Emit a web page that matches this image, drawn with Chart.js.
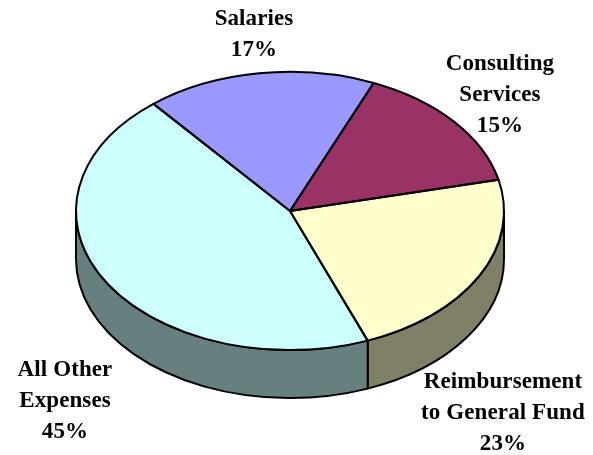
<!DOCTYPE html>
<html>
<head>
<meta charset="utf-8">
<title>Expenses</title>
<script src="https://cdn.jsdelivr.net/npm/chart.js@4/dist/chart.umd.min.js"></script>
<style>
	html, body { margin: 0; padding: 0; background: #fff; }
	canvas { display: block; }
</style>
</head>
<body>
<canvas id="chart-1" width="593" height="455"></canvas>
<script>
// clockwise from the first slice after the rotation
var categories = ["Consulting Services", "Reimbursement to General Fund", "All Other Expenses", "Salaries"];
var percents = [15, 22.7, 44.9, 17.4];
var topColours = ["#993366", "#FFFFCC", "#CCFFFF", "#9999FF"];
var sideColours = ["#4D1A33", "#808066", "#668080", "#4D4D80"];

// text of the labels, one entry per line, with where each block is centred
var labelLines = [
	["Consulting", "Services", "15%"],
	["Reimbursement", "to General Fund", "23%"],
	["All Other", "Expenses", "45%"],
	["Salaries", "17%"]
];
var labelX = [500, 503, 65, 254];
var labelTop = [64, 382, 370.5, 19];

var squash = 0.65;     // how flat the pie looks
var pieMiddleY = 211;  // where the centre of the top face ends up
var depth = 48;        // height of the side wall
var lineHeight = 30.8;

function screenArc(chart) {
	return chart.getDatasetMeta(0).data;
}

var tiltPlugin = {
	id: "tilt",
	beforeDatasetDraw: function(chart) {
		var ctx = chart.ctx;
		var arcs = screenArc(chart);
		var cx = arcs[0].x;
		var rx = arcs[0].outerRadius;
		var ry = rx * squash;

		// side wall, only the part facing the viewer (0 to PI on the canvas)
		ctx.save();
		ctx.lineWidth = 2;
		ctx.strokeStyle = "#000";
		ctx.lineJoin = "round";
		arcs.forEach(function(arc, i) {
			var lo = Math.max(arc.startAngle, 0);
			var hi = Math.min(arc.endAngle, Math.PI);
			if (hi <= lo) return;
			ctx.beginPath();
			ctx.ellipse(cx, pieMiddleY + depth, rx, ry, 0, lo, hi);
			ctx.ellipse(cx, pieMiddleY, rx, ry, 0, hi, lo, true);
			ctx.closePath();
			ctx.fillStyle = sideColours[i];
			ctx.fill();
			ctx.stroke();
		});
		ctx.restore();

		// the library draws the top face, we just flatten it
		ctx.save();
		ctx.translate(cx, pieMiddleY);
		ctx.scale(1, squash);
		ctx.translate(-cx, -arcs[0].y);
	},
	afterDatasetDraw: function(chart) {
		var ctx = chart.ctx;
		ctx.restore();

		var arcs = screenArc(chart);
		var cx = arcs[0].x;
		var rx = arcs[0].outerRadius;
		var ry = rx * squash;

		// outlines go on after the scale so the pen stays even
		ctx.save();
		ctx.lineWidth = 2;
		ctx.strokeStyle = "#000";
		ctx.lineJoin = "round";
		arcs.forEach(function(arc) {
			ctx.beginPath();
			ctx.moveTo(cx, pieMiddleY);
			ctx.ellipse(cx, pieMiddleY, rx, ry, 0, arc.startAngle, arc.endAngle);
			ctx.closePath();
			ctx.stroke();
		});
		ctx.restore();
	},
	afterDraw: function(chart) {
		var ctx = chart.ctx;
		ctx.save();
		ctx.fillStyle = "#000";
		ctx.font = "bold 23px 'Liberation Serif'";
		ctx.letterSpacing = "0.1px";
		ctx.textAlign = "center";
		ctx.textBaseline = "middle";
		labelLines.forEach(function(lines, i) {
			lines.forEach(function(line, j) {
				ctx.fillText(line, labelX[i], labelTop[i] + j * lineHeight);
			});
		});
		ctx.restore();
	}
};

var graph = new Chart("chart-1", {
	type: "pie",
	data: {
		labels: categories,
		datasets: [{
			data: percents,
			backgroundColor: topColours,
			borderWidth: 0,
			clip: false
		}]
	},
	options: {
		responsive: false,
		animation: false,
		devicePixelRatio: 1,
		rotation: 23,
		layout: {
			padding: { left: 76, right: 89, top: 13, bottom: 14 }
		},
		plugins: {
			legend: { display: false },
			tooltip: { enabled: false }
		}
	},
	plugins: [tiltPlugin]
});
</script>
</body>
</html>
